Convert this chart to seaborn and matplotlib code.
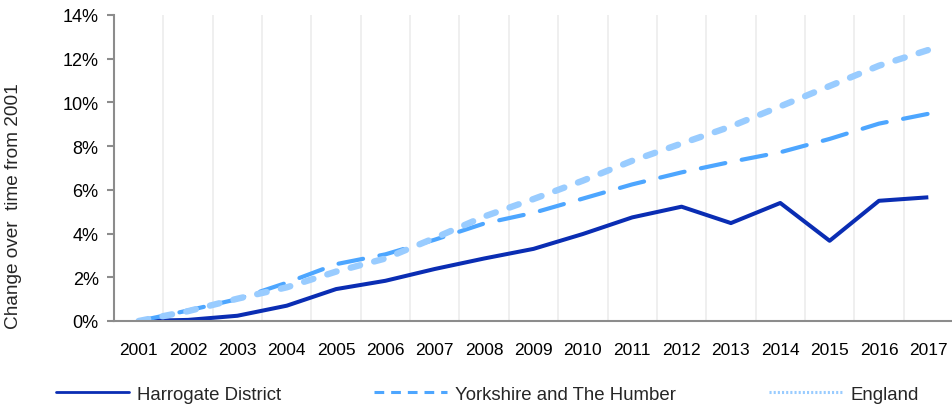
import pandas as pd
import matplotlib
matplotlib.use('Agg')
import matplotlib.pyplot as plt
from matplotlib.lines import Line2D
from matplotlib.ticker import FuncFormatter, FixedLocator
import seaborn as sns

years = ['2001', '2002', '2003', '2004', '2005', '2006', '2007', '2008', '2009',
         '2010', '2011', '2012', '2013', '2014', '2015', '2016', '2017']
harrogate = [0.0, 0.05, 0.24, 0.70, 1.46, 1.84, 2.38, 2.86, 3.30,
             3.98, 4.74, 5.23, 4.48, 5.40, 3.67, 5.50, 5.66]
yorkshire = [0.0, 0.48, 1.00, 1.75, 2.60, 3.05, 3.72, 4.46, 4.95,
             5.60, 6.25, 6.80, 7.28, 7.72, 8.33, 9.03, 9.48]
england = [0.0, 0.45, 1.02, 1.54, 2.26, 2.86, 3.80, 4.78, 5.58,
           6.42, 7.33, 8.12, 8.90, 9.82, 10.75, 11.68, 12.40]

names = ['Harrogate District', 'Yorkshire and The Humber', 'England']
colors = ['#0a2db3', '#4da6ff', '#99ccff']

df = pd.DataFrame({'x': range(len(years)), 'Harrogate District': harrogate,
                   'Yorkshire and The Humber': yorkshire, 'England': england})

sns.set_style('white')
plt.rcParams['font.family'] = ['Liberation Sans', 'DejaVu Sans']
plt.rcParams['lines.scale_dashes'] = False

fig = plt.figure(figsize=(9.53, 4.06), dpi=100)
ax = fig.add_axes([114/953, 1 - 322/406, 1 - 114/953, (322 - 16)/406])

styles = [dict(lw=2.9, solid_capstyle='butt'),
          dict(lw=3.0, dashes=(18, 12), dash_capstyle='round'),
          dict(lw=4.6, dashes=(7, 10.5), dash_capstyle='round')]
for name, col, st in zip(names, colors, styles):
    sns.lineplot(data=df, x='x', y=name, color=col, ax=ax, legend=False, **st)

ax.set_xlim(-0.5, len(years) - 0.5)
ax.set_ylim(0, 14)
ax.set_xticks(range(len(years)))
ax.set_xticklabels(years)
ax.xaxis.set_minor_locator(FixedLocator([i + 0.5 for i in range(-1, len(years))]))
ax.grid(True, axis='x', which='minor', color='#ececec', lw=1.2)
ax.grid(False, axis='x', which='major')
ax.grid(False, axis='y')
ax.set_yticks(range(0, 15, 2))
ax.yaxis.set_major_formatter(FuncFormatter(lambda v, p: f'{int(v)}%'))

for s in ['top', 'right']:
    ax.spines[s].set_visible(False)
for s in ['left', 'bottom']:
    ax.spines[s].set_color('#8c8c8c')
    ax.spines[s].set_linewidth(1.5)

ax.tick_params(axis='x', which='both', length=0, pad=15, labelsize=12.5, colors='black')
ax.tick_params(axis='y', length=5, width=1.5, color='#8c8c8c', pad=6, labelsize=13, labelcolor='black', left=True)

ax.set_xlabel('')
ax.set_ylabel('Change over  time from 2001', fontsize=13.7)
ax.yaxis.set_label_coords(-92/839, 0.38)

handles = [Line2D([], [], color=colors[0], lw=2.0),
           Line2D([], [], color=colors[1], lw=2.2, dashes=(7, 5)),
           Line2D([], [], color=colors[2], lw=2.2, dashes=(1.5, 1.5))]
fig.legend(handles, names, loc='center', bbox_to_anchor=(0.5115, 1 - 395/406), ncol=3,
           frameon=False, fontsize=13.4, handlelength=3.9, handletextpad=0.45,
           columnspacing=5.0, borderaxespad=0)

fig.savefig('out.png', dpi=100)
